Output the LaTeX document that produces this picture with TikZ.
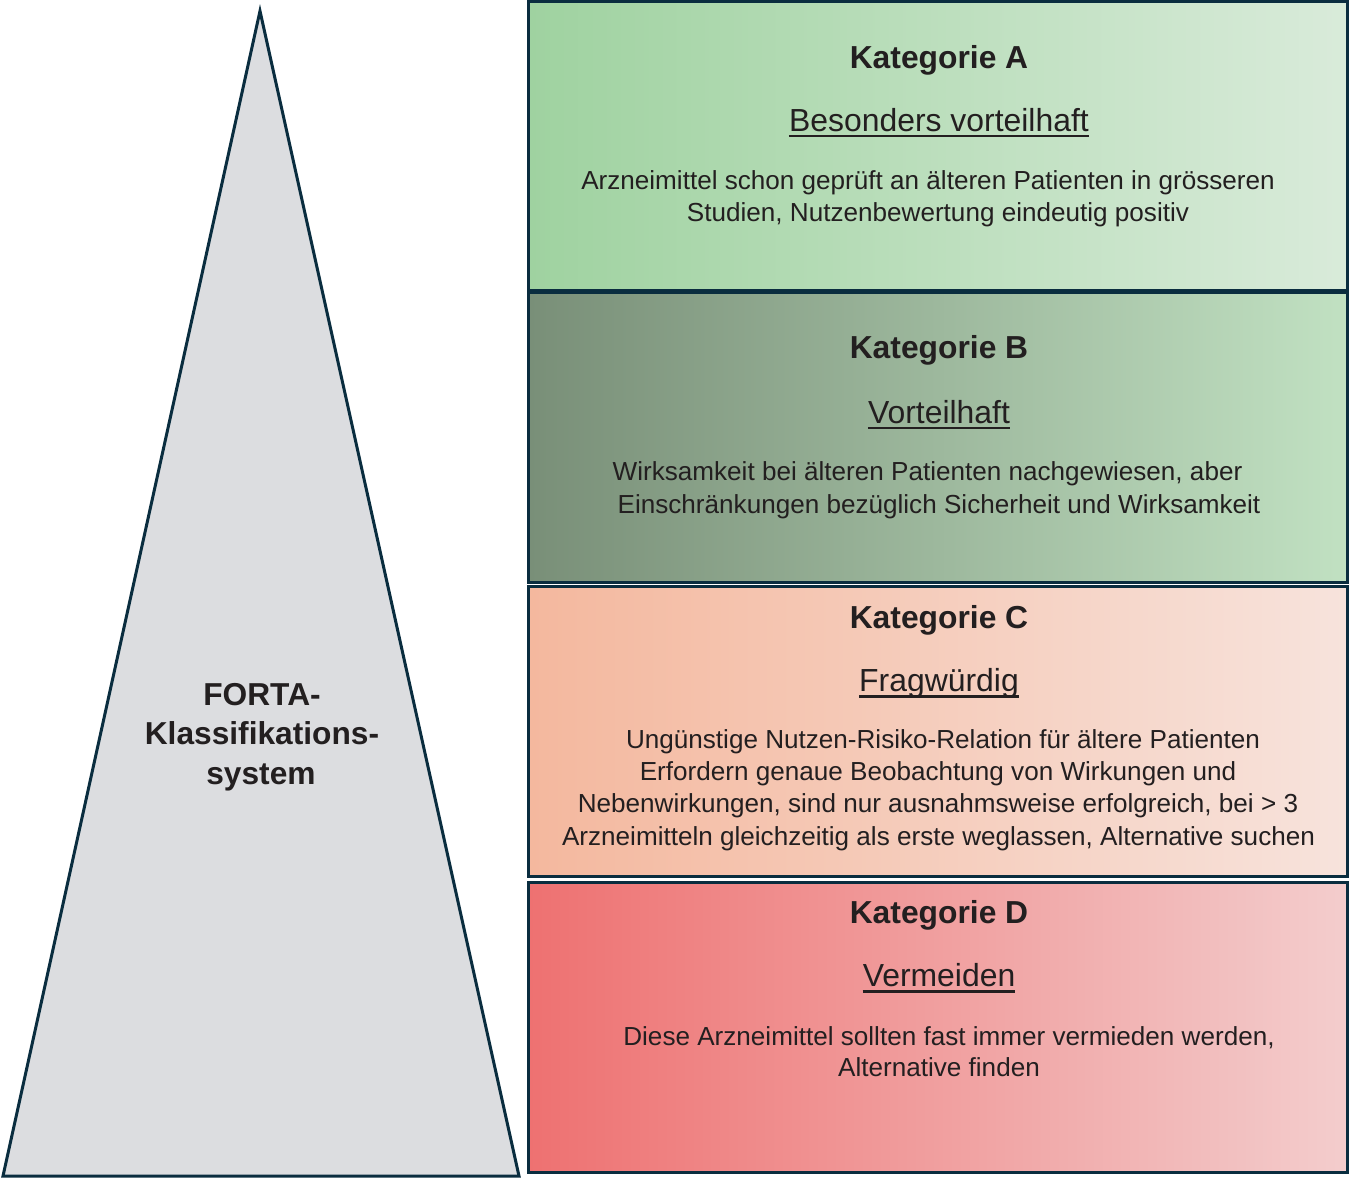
\documentclass[tikz,border=0pt]{standalone}
\usepackage{fontspec}
\setmainfont{Liberation Sans}
\definecolor{navy}{HTML}{0A2D3F}
\definecolor{txt}{HTML}{231F20}
\definecolor{trifill}{HTML}{DCDDE0}
\definecolor{aL}{HTML}{9FD2A0}
\definecolor{aR}{HTML}{D9EBDA}
\definecolor{bL}{HTML}{798F78}
\definecolor{bR}{HTML}{C1E1C2}
\definecolor{cL}{HTML}{F4B89E}
\definecolor{cR}{HTML}{F7E3DC}
\definecolor{dL}{HTML}{EE7171}
\definecolor{dR}{HTML}{F3CDCD}
\begin{document}
\begin{tikzpicture}[x=1pt,y=-1pt,
  catbox/.style={draw=navy, line width=3pt, minimum width=819pt, inner sep=0pt},
  head/.style={anchor=base, inner sep=0pt, text=txt, font=\fontsize{31.8}{37}\selectfont\bfseries},
  subt/.style={anchor=base, inner sep=0pt, text=txt, font=\fontsize{31.9}{37}\selectfont},
  body/.style={anchor=base, inner sep=0pt, text=txt, font=\fontsize{26.1}{31}\selectfont},
  uline/.style={draw=txt, line width=2.5pt},
  tritext/.style={anchor=base, inner sep=0pt, text=txt, font=\fontsize{31.7}{37}\selectfont\bfseries}
]
\useasboundingbox (0,0) rectangle (1350,1179);

% triangle
\draw[draw=navy, fill=trifill, line width=3pt, line join=miter] (260,11) -- (519,1176) -- (3,1176) -- cycle;
\node[tritext] (t1) at (262,705) {FORTA-};
\node[tritext] (t2) at (262,744.5) {Klassifikations-};
\node[tritext] (t3) at (261,784) {system};

% boxes
\node[catbox, minimum height=289pt, left color=aL, right color=aR] (boxA) at (938,146) {};
\node[catbox, minimum height=289.5pt, left color=bL, right color=bR] (boxB) at (938,437.25) {};
\node[catbox, minimum height=290.3pt, left color=cL, right color=cR] (boxC) at (938,731.15) {};
\node[catbox, minimum height=290.5pt, left color=dL, right color=dR] (boxD) at (938,1027.25) {};

% Kategorie A
\node[head] (hA) at (939,68) {Kategorie A};
\node[subt] (sA) at (939,131) {Besonders vorteilhaft};
\draw[uline] ([yshift=-5pt]sA.base west) -- ([yshift=-5pt]sA.base east);
\node[body] (bA1) at (928,189) {Arzneimittel schon geprüft an älteren Patienten in grösseren};
\node[body] (bA2) at (938,221.5) {Studien, Nutzenbewertung eindeutig positiv};

% Kategorie B
\node[head] (hB) at (939,358) {Kategorie B};
\node[subt] (sB) at (939,423) {Vorteilhaft};
\draw[uline] ([yshift=-5pt]sB.base west) -- ([yshift=-5pt]sB.base east);
\node[body] (bB1) at (927.5,480) {Wirksamkeit bei älteren Patienten nachgewiesen, aber};
\node[body] (bB2) at (939,513) {Einschränkungen bezüglich Sicherheit und Wirksamkeit};

% Kategorie C
\node[head] (hC) at (939,628) {Kategorie C};
\node[subt] (sC) at (939,691.5) {Fragwürdig};
\draw[uline] ([yshift=-5pt]sC.base west) -- ([yshift=-5pt]sC.base east);
\node[body] (bC1) at (943,748) {Ungünstige Nutzen-Risiko-Relation für ältere Patienten};
\node[body] (bC2) at (938,780.5) {Erfordern genaue Beobachtung von Wirkungen und};
\node[body] (bC3) at (938,812.5) {Nebenwirkungen, sind nur ausnahmsweise erfolgreich, bei > 3};
\node[body] (bC4) at (938.5,845) {Arzneimitteln gleichzeitig als erste weglassen, Alternative suchen};

% Kategorie D
\node[head] (hD) at (939,923) {Kategorie D};
\node[subt] (sD) at (939,986.5) {Vermeiden};
\draw[uline] ([yshift=-5pt]sD.base west) -- ([yshift=-5pt]sD.base east);
\node[body] (bD1) at (949,1045) {Diese Arzneimittel sollten fast immer vermieden werden,};
\node[body] (bD2) at (939,1076.5) {Alternative finden};
\end{tikzpicture}
\end{document}
